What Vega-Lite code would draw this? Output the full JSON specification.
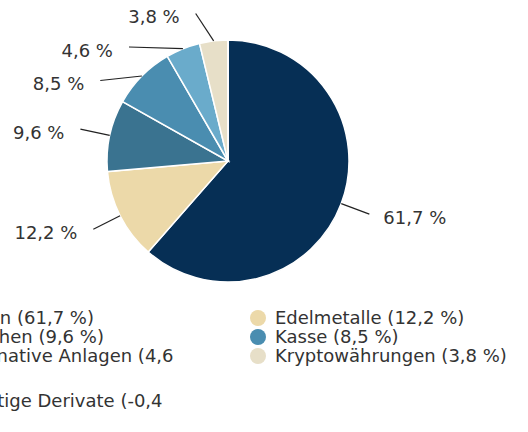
{
  "$schema": "https://vega.github.io/schema/vega-lite/v6.json",
  "width": 456,
  "height": 322,
  "autosize": {"type": "none"},
  "padding": {"left": 0, "top": 0, "right": 72, "bottom": 110},
  "config": {
    "view": {"stroke": null},
    "font": "DejaVu Sans",
    "style": {"guide-label": {"dy": -8, "lineHeight": 25.5}},
    "locale": {"number": {"decimal": ",", "thousands": ".", "grouping": [3], "currency": ["", " €"], "minus": "-"}}
  },
  "data": {
    "values": [
      {"category": "Aktien", "value": 61.7},
      {"category": "Edelmetalle", "value": 12.2},
      {"category": "Anleihen", "value": 9.6},
      {"category": "Kasse", "value": 8.5},
      {"category": "Alternative Anlagen", "value": 4.6},
      {"category": "Kryptowährungen", "value": 3.8},
      {"category": "Sonstige Derivate", "value": -0.4}
    ]
  },
  "transform": [
    {"window": [{"op": "row_number", "as": "idx"}]},
    {"calculate": "datum.category + ' (' + format(datum.value, '.1f') + ' %)'", "as": "legend"},
    {"calculate": "format(datum.value, '.1f') + ' %'", "as": "pct"},
    {"calculate": "max(datum.value, 0)", "as": "share"}
  ],
  "layer": [
    {
      "mark": {"type": "arc", "outerRadius": 121, "stroke": "white", "strokeWidth": 1.5},
      "encoding": {
        "theta": {"field": "share", "type": "quantitative", "stack": true},
        "order": {"field": "idx", "type": "quantitative"},
        "color": {
          "field": "legend",
          "type": "nominal",
          "sort": {"field": "idx", "op": "min"},
          "scale": {"range": ["#062f55", "#ecd9a9", "#3a7390", "#4a8db0", "#6aabcb", "#e7dfc8", "#9a9a9a"]},
          "legend": {
            "title": null,
            "orient": "none",
            "direction": "horizontal",
            "legendX": -72,
            "legendY": 309,
            "columns": 2,
            "columnPadding": 75,
            "rowPadding": 0,
            "padding": 0,
            "symbolType": "circle",
            "symbolSize": 256,
            "symbolStrokeWidth": 0,
            "symbolOpacity": 1,
            "labelFontSize": 18,
            "labelBaseline": "top",
            "labelColor": "#333333",
            "labelLimit": 0,
            "labelOffset": 8,
            "labelExpr": "length(datum.label) > 24 ? [slice(datum.label, 0, lastindexof(datum.label, ' ')), slice(datum.label, lastindexof(datum.label, ' ') + 1)] : datum.label"
          }
        }
      }
    },
    {
      "transform": [
        {"filter": "datum.value > 0"},
        {"joinaggregate": [{"op": "sum", "field": "share", "as": "total"}]},
        {"window": [{"op": "sum", "field": "share", "as": "cum"}], "sort": [{"field": "idx"}], "frame": [null, 0]},
        {"calculate": "2 * PI * (datum.cum - datum.share / 2) / datum.total", "as": "mid"},
        {"calculate": "sin(datum.mid) >= 0 ? 1 : -1", "as": "side"},
        {"calculate": "min(151 * cos(datum.mid), 147.5)", "as": "ynat"},
        {"window": [{"op": "row_number", "as": "slot"}], "groupby": ["side"], "sort": [{"field": "ynat", "order": "descending"}]},
        {"calculate": "datum.ynat + 33.5 * datum.slot", "as": "reach"},
        {"window": [{"op": "min", "field": "reach", "as": "reachMin"}], "groupby": ["side"], "sort": [{"field": "ynat", "order": "descending"}], "frame": [null, 0]},
        {"calculate": "datum.reachMin - 33.5 * datum.slot", "as": "ly"},
        {"calculate": "datum.side * sqrt(max(0, 151 * 151 - datum.ly * datum.ly))", "as": "lx"},
        {"calculate": "121 * sin(datum.mid)", "as": "ax"},
        {"calculate": "121 * cos(datum.mid)", "as": "ay"},
        {"calculate": "datum.lx + (datum.side > 0 ? 14 : -16)", "as": "tx"}
      ],
      "layer": [
        {
          "mark": {"type": "rule", "color": "#222222", "strokeWidth": 1.2},
          "encoding": {
            "x": {"field": "ax", "type": "quantitative", "scale": {"domain": [-228, 228], "nice": false, "zero": false}, "axis": null},
            "y": {"field": "ay", "type": "quantitative", "scale": {"domain": [-161, 161], "nice": false, "zero": false}, "axis": null},
            "x2": {"field": "lx"},
            "y2": {"field": "ly"}
          }
        },
        {
          "transform": [{"filter": "datum.side > 0"}],
          "mark": {"type": "text", "align": "left", "baseline": "middle", "dy": 4.5, "fontSize": 18, "color": "#333333"},
          "encoding": {
            "x": {"field": "tx", "type": "quantitative"},
            "y": {"field": "ly", "type": "quantitative"},
            "text": {"field": "pct"}
          }
        },
        {
          "transform": [{"filter": "datum.side < 0"}],
          "mark": {"type": "text", "align": "right", "baseline": "middle", "dy": 4.5, "fontSize": 18, "color": "#333333"},
          "encoding": {
            "x": {"field": "tx", "type": "quantitative"},
            "y": {"field": "ly", "type": "quantitative"},
            "text": {"field": "pct"}
          }
        }
      ]
    }
  ]
}
